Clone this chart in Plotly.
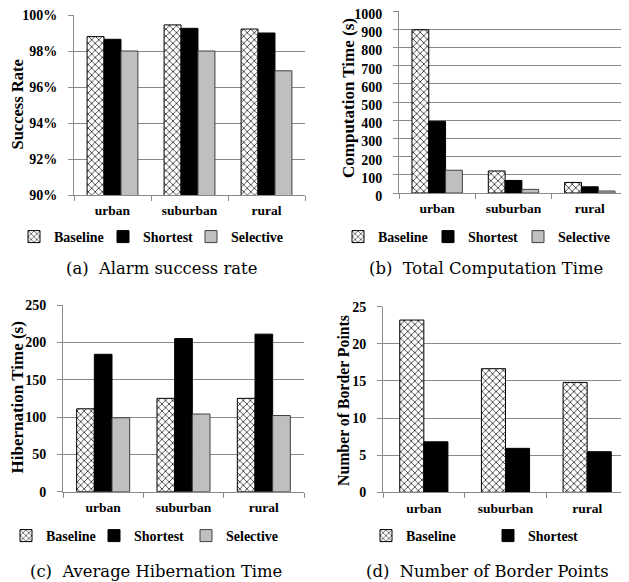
import plotly.graph_objects as go

categories = ["urban", "suburban", "rural"]

a_baseline = [98.8, 99.45, 99.22]
a_shortest = [98.65, 99.26, 99.0]
a_selective = [98.0, 98.0, 96.9]

b_baseline = [897, 121, 58]
b_shortest = [394, 69, 34]
b_selective = [125, 20, 11]

c_baseline = [111, 125, 125]
c_shortest = [184, 205, 211]
c_selective = [99, 104, 102]

d_baseline = [23.2, 16.65, 14.8]
d_shortest = [6.8, 5.92, 5.47]

a_ticks = [90, 92, 94, 96, 98, 100]
a_ticklabels = ["90%", "92%", "94%", "96%", "98%", "100%"]
b_ticks = [0, 100, 200, 300, 400, 500, 600, 700, 800, 900, 1000]
c_ticks = [0, 50, 100, 150, 200, 250]
d_ticks = [0, 5, 10, 15, 20, 25]

# page has an 8px body margin; lay out in window pixels
OFF = 8
W, H = 629 - OFF, 582 - OFF
def px(x): return (x - OFF) / W
def py(y): return 1 - (y - OFF) / H

SERIF = "Liberation Serif"
GRID = "#8a8a8a"
YTICKF = dict(family=SERIF, size=14, color="black", weight="bold")
XTICKF = dict(family=SERIF, size=13.5, color="black", weight="bold")
LEGF = dict(family=SERIF, size=14, color="black", weight="bold")

def style(name):
    if name == "Baseline":
        return dict(color="white", line=dict(color="black", width=1),
                    pattern=dict(shape="x", size=5, solidity=0.25,
                                 fgcolor="black", bgcolor="white"))
    if name == "Shortest":
        return dict(color="black", line=dict(color="black", width=1))
    return dict(color="#bfbfbf", line=dict(color="#404040", width=1))

# legend text start positions (window px) and row centre
legend_pos = {
    "": ([53, 142, 230], 237),
    "2": ([377, 467, 557], 237),
    "3": ([45, 133, 225], 536),
    "4": ([405, 527], 536),
}

fig = go.Figure()

panels = [
    ("", [("Baseline", a_baseline), ("Shortest", a_shortest), ("Selective", a_selective)]),
    ("2", [("Baseline", b_baseline), ("Shortest", b_shortest), ("Selective", b_selective)]),
    ("3", [("Baseline", c_baseline), ("Shortest", c_shortest), ("Selective", c_selective)]),
    ("4", [("Baseline", d_baseline), ("Shortest", d_shortest)]),
]

legends = {}
k = 0
for suffix, series in panels:
    n = len(series)
    bw = 0.22 if n == 3 else 0.295
    xs, ly = legend_pos[suffix]
    for i, (name, vals) in enumerate(series):
        k += 1
        leg = "legend" if k == 1 else f"legend{k}"
        legends[leg] = dict(orientation="h", x=px(xs[i] + 2 - 41), y=py(ly),
                            xanchor="left", yanchor="middle", font=LEGF,
                            bgcolor="rgba(0,0,0,0)", borderwidth=0, visible=True,
                            itemclick=False, itemdoubleclick=False, itemwidth=30)
        fig.add_trace(go.Bar(
            x=categories, y=vals, name=name, showlegend=True,
            xaxis="x" + suffix, yaxis="y" + suffix,
            legend=leg, marker=style(name),
            width=bw, offset=-bw * n / 2 + i * bw,
        ))

def xax(d0, d1, anchor):
    return dict(domain=[px(d0), px(d1)], anchor=anchor, type="category",
                showline=True, linecolor=GRID, linewidth=1,
                ticks="outside", tickson="boundaries", ticklen=5, tickcolor=GRID,
                tickfont=XTICKF, showgrid=False, ticklabelstandoff=3,
                range=[-0.5, 2.5], fixedrange=True, automargin=False)

def yax(top, bot, anchor, rng, ticks, labels=None, shift=0):
    d = dict(domain=[py(bot), py(top)], anchor=anchor, range=rng,
             tickvals=ticks,
             showline=True, linecolor=GRID, linewidth=1,
             showgrid=True, gridcolor=GRID, gridwidth=1,
             ticks="outside", ticklen=5, tickcolor=GRID,
             tickfont=YTICKF, zeroline=False, ticklabelstandoff=8,
             ticklabeloverflow="allow", ticklabelshift=shift,
             fixedrange=True, automargin=False)
    if labels is not None:
        d["ticktext"] = labels
    return d

fig.update_layout(
    template="none",
    width=W, height=H,
    showlegend=True,
    margin=dict(l=0, r=0, t=0, b=0, autoexpand=False),
    paper_bgcolor="white", plot_bgcolor="white",
    barmode="overlay",
    xaxis=xax(74, 305, "y"),
    yaxis=yax(15, 195, "x", [90, 100], a_ticks, a_ticklabels),
    xaxis2=xax(399, 628, "y2"),
    yaxis2=yax(11, 193, "x2", [0, 1000], b_ticks, shift=3),
    xaxis3=xax(63, 304, "y3"),
    yaxis3=yax(305, 491.7, "x3", [0, 250], c_ticks),
    xaxis4=xax(383, 628, "y4"),
    yaxis4=yax(306.7, 492.3, "x4", [0, 25], d_ticks),
    **legends,
)

annotations = []
ytitles = [
    ("Success Rate", 16.5, 105, 16.5),
    ("Computation Time (s)", 348, 98, 17),
    ("Hibernation Time (s)", 16.5, 398, 17),
    ("Number of Border Points", 343, 400, 15.8),
]
for t, x, y, s in ytitles:
    annotations.append(dict(text=t, x=px(x), y=py(y), xref="paper", yref="paper",
                            textangle=-90, showarrow=False,
                            font=dict(family=SERIF, size=s, color="black", weight="bold"),
                            xanchor="center", yanchor="middle"))

captions = [
    ("(a)  Alarm success rate", 161, 268),
    ("(b)  Total Computation Time", 486, 268),
    ("(c)  Average Hibernation Time", 156, 571),
    ("(d)  Number of Border Points", 487, 571),
]
for t, x, y in captions:
    annotations.append(dict(text=t, x=px(x), y=py(y), xref="paper", yref="paper",
                            showarrow=False,
                            font=dict(family="DejaVu Serif", size=16.4, color="black"),
                            xanchor="center", yanchor="middle"))

fig.update_layout(annotations=annotations)

fig.write_html("out.html")
